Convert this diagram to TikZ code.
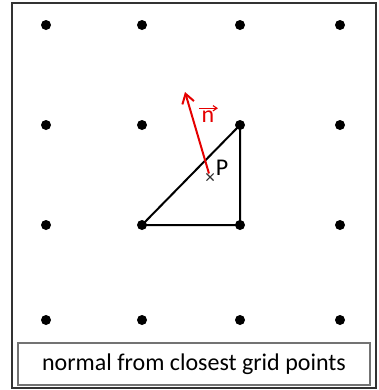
\documentclass[tikz,border=0pt]{standalone}
\usepackage{fontspec}
\setmainfont{Carlito}
\usetikzlibrary{shapes.misc,arrows.meta}
\begin{document}
\begin{tikzpicture}[x=0.75pt,y=-0.75pt,every node/.style={font=\fontsize{18pt}{21pt}\selectfont},
  gridpt/.style={circle,fill=black,inner sep=0pt,minimum size=7.5pt},
  edge/.style={line width=1.5pt,black}]
\useasboundingbox (0,0) rectangle (379,390);
% frame and caption
\draw[line width=1.3pt,black!80] (12,3) rectangle (376,388);
\node[draw=black!55,line width=0.9pt,minimum width=264pt,minimum height=31.5pt] (cap) at (194,364) {normal from closest grid points};
% grid points
\foreach \c/\x in {1/46,2/142,3/240,4/340}
  \foreach \r/\y in {1/25,2/125,3/225,4/320}
    \node[gridpt] (g\c\r) at (\x,\y) {};
% triangle
\draw[edge] (g23.center)--(g33.center)--(g32.center)--cycle;
% point and normal
\node[cross out,draw=black!80,line width=0.8pt,minimum size=4.5pt,inner sep=0pt] (P) at (210,177) {};
\node (Plab) at (222,168) {P};
\coordinate (ntip) at (185,92);
\draw[red!90!black,line width=1.5pt,-{Straight Barb[length=7pt,width=9pt]}] (P)--(ntip);
\node[text=red!90!black,inner sep=0.5pt] (nlab) at (208,117) {n};
\draw[red!90!black,line width=0.8pt,-{Straight Barb[length=3pt,width=4pt]}] ([xshift=-1pt,yshift=1.5pt]nlab.north west)--([xshift=2pt,yshift=1.5pt]nlab.north east);
\end{tikzpicture}
\end{document}
